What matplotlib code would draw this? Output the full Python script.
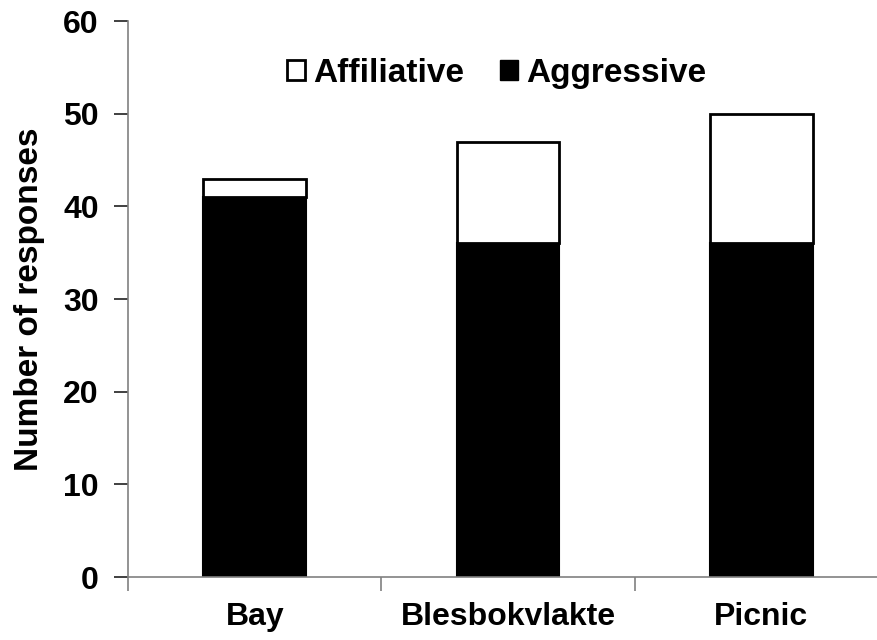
import matplotlib.pyplot as plt
import numpy as np
from matplotlib.patches import Patch

sites = ["Bay", "Blesbokvlakte", "Picnic"]
aggressive = [41, 36, 36]
affiliative = [2, 11, 14]

plt.rcParams['font.family'] = ['Liberation Sans', 'DejaVu Sans']
plt.rcParams['font.weight'] = 'bold'

fig = plt.figure(figsize=(8.77, 6.4), dpi=100)
ax = fig.add_axes([0.146, 0.0984, 0.8665, 0.8686])

x = np.arange(len(sites)) + 0.5
w = 0.405
ax.bar(x, aggressive, width=w, color='black', edgecolor='black', linewidth=1.5)
ax.bar(x, affiliative, width=w, bottom=aggressive, color='white',
       edgecolor='black', linewidth=2)

ax.set_xlim(0, 3)
ax.set_ylim(0, 60)
ax.set_yticks(range(0, 61, 10))
# category boundaries get the tick marks, names sit between them
ax.set_xticks([0, 1, 2], minor=False)
ax.set_xticks(x, minor=True)
ax.set_xticklabels([], minor=False)
ax.set_xticklabels(sites, minor=True)
ax.tick_params(axis='x', which='minor', length=0, pad=18, labelsize=23)
ax.tick_params(axis='x', which='major', length=10, direction='out', color='#808080', width=1.2)
ax.tick_params(axis='y', length=10, direction='out', color='#202020', width=1.2,
               labelsize=23, pad=11)
for lab in ax.get_yticklabels() + ax.get_xticklabels(minor=True):
    lab.set_fontweight('bold')

for s in ['top', 'right']:
    ax.spines[s].set_visible(False)
ax.spines['left'].set_color('#808080')
ax.spines['bottom'].set_color('#808080')
ax.spines['left'].set_linewidth(1.2)
ax.spines['bottom'].set_linewidth(1.2)

ax.set_ylabel("Number of responses", fontsize=24, fontweight='bold', labelpad=13)

handles = [Patch(facecolor='white', edgecolor='black', linewidth=2, label='Affiliative'),
           Patch(facecolor='black', edgecolor='black', label='Aggressive')]
ax.legend(handles=handles, loc='upper center', bbox_to_anchor=(0.485, 0.988), ncol=2,
          frameon=False, handlelength=0.55, handleheight=0.55,
          handletextpad=0.25, columnspacing=1.05, prop={'weight': 'bold', 'size': 24})

fig.savefig("out.png", dpi=100)
